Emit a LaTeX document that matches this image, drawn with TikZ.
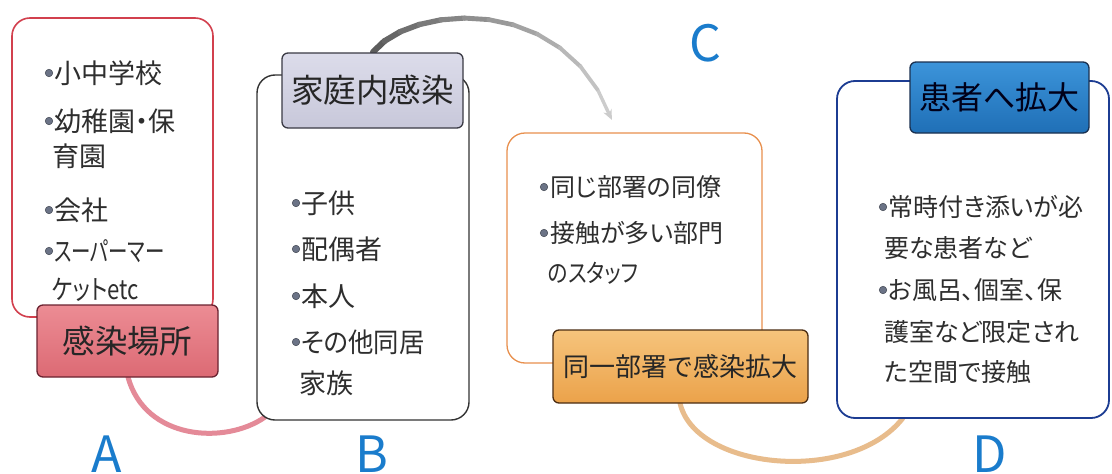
\documentclass[tikz,border=0pt]{standalone}
\usepackage{fontspec}
\setmainfont{Noto Sans CJK JP}
\newfontfamily\pfont{Noto Sans CJK JP}[RawFeature=+palt]
\usetikzlibrary{arrows.meta,calc}
\definecolor{txt}{HTML}{2E2E2E}
\definecolor{bulc}{HTML}{6B7386}
\definecolor{letc}{HTML}{1A7CCC}
\definecolor{aline}{HTML}{D2404E}
\definecolor{bline}{HTML}{333333}
\definecolor{cline}{HTML}{E8904E}
\definecolor{dline}{HTML}{1C3C92}
\definecolor{atop}{HTML}{EC8C94}
\definecolor{abot}{HTML}{DC6A74}
\definecolor{ab}{HTML}{6A2230}
\definecolor{btop}{HTML}{DCDCEA}
\definecolor{bbot}{HTML}{C8C8DA}
\definecolor{bb}{HTML}{3A3A44}
\definecolor{ctop}{HTML}{F6C47C}
\definecolor{cbot}{HTML}{EBA24A}
\definecolor{cb}{HTML}{4A2C12}
\definecolor{dtop}{HTML}{3C94DA}
\definecolor{dbot}{HTML}{1F6FB6}
\definecolor{db}{HTML}{1A3050}
\definecolor{abcon}{HTML}{E48A98}
\definecolor{cdcon}{HTML}{E8BC8C}
\begin{document}
\begin{tikzpicture}[x=1pt,y=-1pt,
  box/.style={draw, fill=white, line width=1.6pt, rounded corners=18pt, inner sep=0pt},
  lab/.style={draw, line width=1.3pt, rounded corners=6pt, inner sep=0pt, text=black!85},
  item/.style={anchor=west, inner sep=0pt, text=txt},
  fa/.style={font=\pfont\fontsize{27}{30}\selectfont},
  fc/.style={font=\pfont\fontsize{25}{28}\selectfont},
  fd/.style={font=\pfont\fontsize{25}{28}\selectfont},
  narrow/.style={xscale=#1, transform shape},
  bul/.style={circle, fill=bulc, draw=bulc!60!black, line width=0.5pt, inner sep=0pt, minimum size=7.5pt},
  letter/.style={anchor=base, inner sep=0pt, text=letc, font=\fontsize{50}{56}\selectfont},
  con/.style={line width=5pt, line cap=round}]
\useasboundingbox (0,0) rectangle (1112,474);
\clip (0,0) rectangle (1112,474);
\fill[white] (0,0) rectangle (1112,474);

% boxes (positions only; drawn later for stacking)
\path (112.5,167.5) node[minimum width=201pt, minimum height=299pt] (Aref) {};
\path (363,247.5) node[minimum width=212pt, minimum height=345pt] (Bref) {};
\path (634.5,248) node[minimum width=255pt, minimum height=230pt] (Cref) {};
\path (973,249.5) node[minimum width=272pt, minimum height=337pt] (Dref) {};

\coordinate (abend) at ($(Bref.south west)+(8,-3)$);
\coordinate (cend) at ($(Cref.north west)+(105,-13)$);
\coordinate (cdend) at ($(Dref.south west)+(66,0)$);
\coordinate (Alabs) at (128,377);
\coordinate (Blabn) at (373,52);
\coordinate (Clabs) at (680,403);

% connectors
\draw[con, abcon] (Alabs) .. controls (145,440) and (225,445) .. (abend);
\draw[con, cdcon] (Clabs) .. controls (695,470) and (850,485) .. (cdend);
\path (Blabn) .. controls (410,5) and (565,-10) .. (cend)
  \foreach \i [evaluate=\i as \p using \i/12] in {0,...,12} { coordinate[pos=\p] (g\i) };
\foreach \i [evaluate=\i as \j using int(\i+1), evaluate=\i as \s using int(64-4*\i), evaluate=\i as \w using 6-0.22*\i] in {0,...,10}
  { \draw[line width=\w pt, draw=black!\s, line cap=round] (g\i) -- (g\j); }
\draw[line width=3.4pt, draw=black!20, -{Stealth[length=10pt,width=9pt]}] (g11) -- (g12);

% boxes
\node[box, draw=aline, minimum width=201pt, minimum height=299pt] (Abox) at (Aref) {};
\node[box, draw=bline, line width=1.4pt, minimum width=212pt, minimum height=345pt] (Bbox) at (Bref) {};
\node[box, draw=cline, line width=1.3pt, minimum width=255pt, minimum height=230pt] (Cbox) at (Cref) {};
\node[box, draw=dline, line width=1.8pt, minimum width=272pt, minimum height=337pt] (Dbox) at (Dref) {};

% labels
\node[lab, draw=ab, top color=atop, bottom color=abot, minimum width=181pt, minimum height=72pt,
  font=\fontsize{32.5}{34}\selectfont] (Alab) at (127.5,341) {感染場所};
\node[lab, draw=bb, top color=btop, bottom color=bbot, minimum width=181pt, minimum height=75pt,
  font=\fontsize{32.5}{34}\selectfont] (Blab) at (372.5,90.5) {家庭内感染};
\node[lab, draw=cb, top color=ctop, bottom color=cbot, minimum width=255pt, minimum height=73pt,
  font=\fontsize{26}{28}\selectfont] (Clab) at (680.5,366.5) {同一部署で感染拡大};
\node[lab, draw=db, top color=dtop, bottom color=dbot, minimum width=179pt, minimum height=71pt,
  font=\pfont\fontsize{32}{34}\selectfont, text=black!90!blue] (Dlab) at (999.5,97.5) {患者へ拡大};

% A items
\node[bul] (ab1) at (49,73) {};
\node[item, fa] (a1) at (54,73) {小中学校};
\node[bul] (ab2) at (49,121) {};
\node[item, fa] (a2) at (54,121) {幼稚園・保};
\node[item, fa] (a3) at (52,156) {育園};
\node[bul] (ab3) at (49,210) {};
\node[item, fa] (a4) at (54,210) {会社};
\node[bul] (ab4) at (49,251) {};
\node[item, fa, narrow=0.72] (a5) at (54,251) {スーパーマー};
\node[item, fa, narrow=0.82] (a6) at (52,290) {ケットetc};

% B items
\node[bul] (bb1) at (296,203) {};
\node[item, fa] (b1) at (301,203) {子供};
\node[bul] (bb2) at (296,249) {};
\node[item, fa] (b2) at (301,249) {配偶者};
\node[bul] (bb3) at (296,296) {};
\node[item, fa] (b3) at (301,296) {本人};
\node[bul] (bb4) at (296,342) {};
\node[item, fa, narrow=0.94] (b4) at (301,342) {その他同居};
\node[item, fa] (b5) at (299,383) {家族};

% C items
\node[bul] (cb1) at (544,187) {};
\node[item, fc] (c1) at (550,187) {同じ部署の同僚};
\node[bul] (cb2) at (544,233) {};
\node[item, fc] (c2) at (550,233) {接触が多い部門};
\node[item, fc, narrow=0.83] (c3) at (548,273) {のスタッフ};

% D items
\node[bul] (db1) at (883,207) {};
\node[item, fd] (d1) at (888,207) {常時付き添いが必};
\node[item, fd] (d2) at (884,248) {要な患者など};
\node[bul] (db2) at (883,290) {};
\node[item, fd] (d3) at (888,290) {お風呂、個室、保};
\node[item, fd] (d4) at (884,332) {護室など限定され};
\node[item, fd] (d5) at (884,372) {た空間で接触};

% letters
\node[letter] (LA) at (107,472) {A};
\node[letter] (LB) at (372,472) {B};
\node[letter] (LC) at (705,61) {C};
\node[letter] (LD) at (990,472) {D};
\end{tikzpicture}
\end{document}
